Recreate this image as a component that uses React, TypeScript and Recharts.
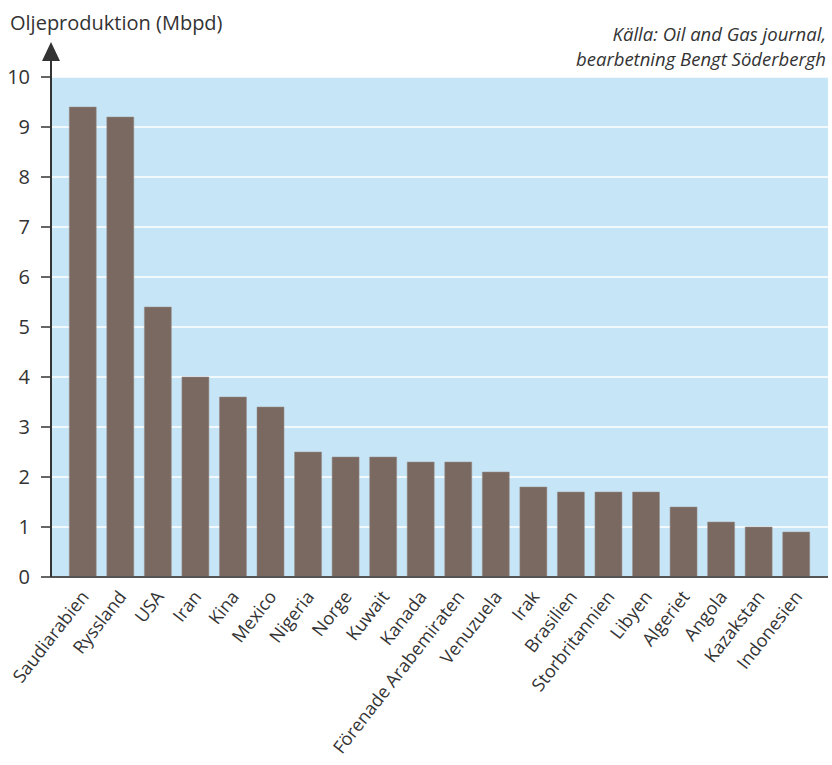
import React from 'react';
import { BarChart, Bar, XAxis, YAxis, CartesianGrid } from 'recharts';

// Oil production per country, million barrels per day
const countries = [
  'Saudiarabien', 'Ryssland', 'USA', 'Iran', 'Kina', 'Mexico', 'Nigeria', 'Norge', 'Kuwait',
  'Kanada', 'Förenade Arabemiraten', 'Venuzuela', 'Irak', 'Brasilien', 'Storbritannien',
  'Libyen', 'Algeriet', 'Angola', 'Kazakstan', 'Indonesien',
];
const production = [9.4, 9.2, 5.4, 4.0, 3.6, 3.4, 2.5, 2.4, 2.4, 2.3, 2.3, 2.1, 1.8, 1.7, 1.7, 1.7, 1.4, 1.1, 1.0, 0.9];
const yTicks = [0, 1, 2, 3, 4, 5, 6, 7, 8, 9, 10];

const data = countries.map((name, i) => ({ name, value: production[i] }));

const FONT = '"Open Sans", "Noto Sans", sans-serif';
const TEXT = '#333333';

const XTick = (props: any) => {
  const { x, y, payload } = props;
  return (
    <g transform={`translate(${x + 7},${y + 12})`}>
      <text transform="rotate(-52)" textAnchor="end" fontSize={18} fill={TEXT} fontFamily={FONT}>
        {payload.value}
      </text>
    </g>
  );
};

const YTick = (props: any) => {
  const { x, y, payload } = props;
  return (
    <text x={x - 9} y={y} dy={7} textAnchor="end" fontSize={20} fill={TEXT} fontFamily={FONT}>
      {payload.value}
    </text>
  );
};

const AxisArrow = (props: any) => {
  const { viewBox } = props;
  const ax = viewBox.x + viewBox.width;
  const top = viewBox.y;
  return (
    <g>
      <line x1={ax} y1={top} x2={ax} y2={top - 18} stroke="#333" strokeWidth={2} />
      <polygon points={`${ax},${top - 35} ${ax - 9},${top - 16} ${ax + 9},${top - 16}`} fill="#333" />
    </g>
  );
};

export default function App() {
  return (
    <div style={{ position: 'absolute', left: 0, top: 0, width: 832, height: 765, background: '#fff' }}>
      <div style={{ position: 'absolute', left: 10, top: 9, fontFamily: FONT, fontSize: 20, color: TEXT }}>
        Oljeproduktion (Mbpd)
      </div>
      <div
        style={{
          position: 'absolute',
          right: 6,
          top: 21,
          fontFamily: FONT,
          fontStyle: 'italic',
          fontSize: 18.5,
          lineHeight: '25px',
          color: TEXT,
          textAlign: 'right',
        }}
      >
        Källa: Oil and Gas journal,
        <br />
        bearbetning Bengt Söderbergh
      </div>
      <BarChart
        width={832}
        height={765}
        data={data}
        margin={{ top: 77, right: 4, left: 0, bottom: 0 }}
        barCategoryGap="14%"
      >
        <CartesianGrid fill="#c6e5f6" stroke="#ffffff" strokeWidth={1.5} vertical={false} fillOpacity={1} />
        <XAxis
          dataKey="name"
          interval={0}
          height={188}
          padding={{ left: 13, right: 13 }}
          tickLine={false}
          axisLine={{ stroke: '#555', strokeWidth: 2 }}
          tick={<XTick />}
        />
        <YAxis
          width={51}
          domain={[0, 10]}
          ticks={yTicks}
          interval={0}
          tickSize={10}
          tickLine={{ stroke: '#333', strokeWidth: 1.5 }}
          axisLine={{ stroke: '#333', strokeWidth: 2 }}
          tick={<YTick />}
          label={<AxisArrow />}
        />
        <Bar dataKey="value" fill="#7a6961" stroke="#9a8f8a" strokeWidth={0.5} isAnimationActive={false} />
      </BarChart>
    </div>
  );
}
